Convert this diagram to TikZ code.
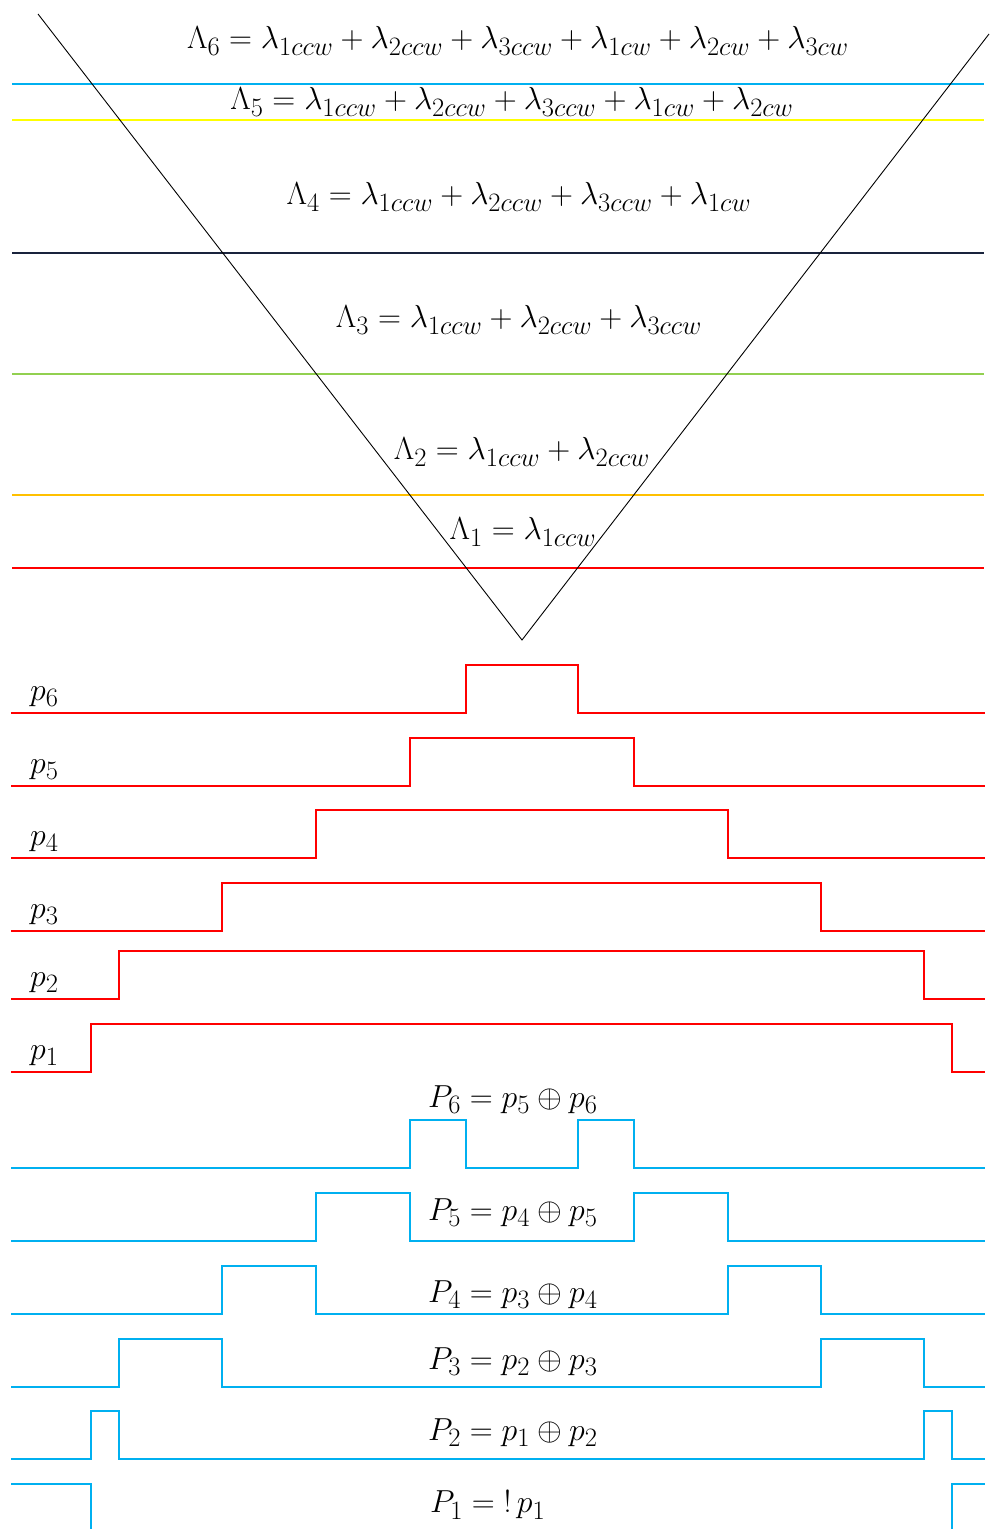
\documentclass[tikz,border=0pt]{standalone}
\usepackage{graphicx}
\definecolor{pulsered}{RGB}{255,0,0}
\definecolor{pulseblue}{RGB}{0,176,240}
\definecolor{lvlyellow}{RGB}{255,255,0}
\definecolor{lvlgreen}{RGB}{146,208,80}
\definecolor{lvlorange}{RGB}{255,192,0}
\definecolor{lvlnavy}{RGB}{25,35,60}
\newcommand{\eqtext}[1]{\scalebox{1.28}{\Huge$#1$}}

\begin{document}
\begin{tikzpicture}[x=1pt,y=-1pt,
  eqn/.style={inner sep=0pt},
  lvl/.style={line width=1.3pt},
  pulse/.style={line width=1.3pt}]
  \useasboundingbox (0,0) rectangle (989,1529);
  \foreach \y/\col in {84/pulseblue, 120/lvlyellow, 253/lvlnavy, 374/lvlgreen, 495/lvlorange, 568/pulsered} {
    \draw[lvl,\col] (12,\y) -- (984,\y);
  }
  \coordinate (vleft) at (38,14);
  \coordinate (vtip) at (522,640);
  \coordinate (vright) at (989,34);
  \draw[line width=0.9pt] (vleft) -- (vtip) -- (vright);

  \node[eqn] (lam6) at (518,41) {\eqtext{\Lambda_6 = \lambda_{1ccw} + \lambda_{2ccw} + \lambda_{3ccw} + \lambda_{1cw} + \lambda_{2cw} + \lambda_{3cw}}};
  \node[eqn] (lam5) at (512,102) {\eqtext{\Lambda_5 = \lambda_{1ccw} + \lambda_{2ccw} + \lambda_{3ccw} + \lambda_{1cw} + \lambda_{2cw}}};
  \node[eqn] (lam4) at (519,197) {\eqtext{\Lambda_4 = \lambda_{1ccw} + \lambda_{2ccw} + \lambda_{3ccw} + \lambda_{1cw}}};
  \node[eqn] (lam3) at (519,320) {\eqtext{\Lambda_3 = \lambda_{1ccw} + \lambda_{2ccw} + \lambda_{3ccw}}};
  \node[eqn] (lam2) at (522,452) {\eqtext{\Lambda_2 = \lambda_{1ccw} + \lambda_{2ccw}}};
  \node[eqn] (lam1) at (523,532) {\eqtext{\Lambda_1 = \lambda_{1ccw}}};

  \foreach \i/\lo/\up/\dn in {6/713/466/578, 5/786/410/634, 4/858/316/728, 3/931/222/821, 2/999/119/924, 1/1072/91/952} {
    \draw[pulse,pulsered] (11,\lo) -| (\up,\lo-48) -| (\dn,\lo) -- (985,\lo);
    \node[eqn,anchor=west] (p\i) at (30,\lo-16) {\eqtext{p_\i}};
  }

  \foreach \i/\lo/\a/\b/\c/\d/\ly/\lab in {6/1168/410/466/578/634/1100/{P_6 = p_5 \oplus p_6},
      5/1241/316/410/634/728/1213/{P_5 = p_4 \oplus p_5},
      4/1314/222/316/728/821/1295/{P_4 = p_3 \oplus p_4},
      3/1387/119/222/821/924/1362/{P_3 = p_2 \oplus p_3},
      2/1459/91/119/924/952/1433/{P_2 = p_1 \oplus p_2}} {
    \draw[pulse,pulseblue] (11,\lo) -| (\a,\lo-48) -| (\b,\lo) -| (\c,\lo-48) -| (\d,\lo) -- (985,\lo);
    \node[eqn,anchor=west] (P\i) at (428,\ly) {\eqtext{\lab}};
  }
  \draw[pulse,pulseblue] (11,1484) -| (91,1529);
  \draw[pulse,pulseblue] (952,1529) |- (985,1484);
  \node[eqn,anchor=west] (P1) at (430,1505) {\eqtext{P_1 = \mathord{!}\,p_1}};
\end{tikzpicture}
\end{document}
